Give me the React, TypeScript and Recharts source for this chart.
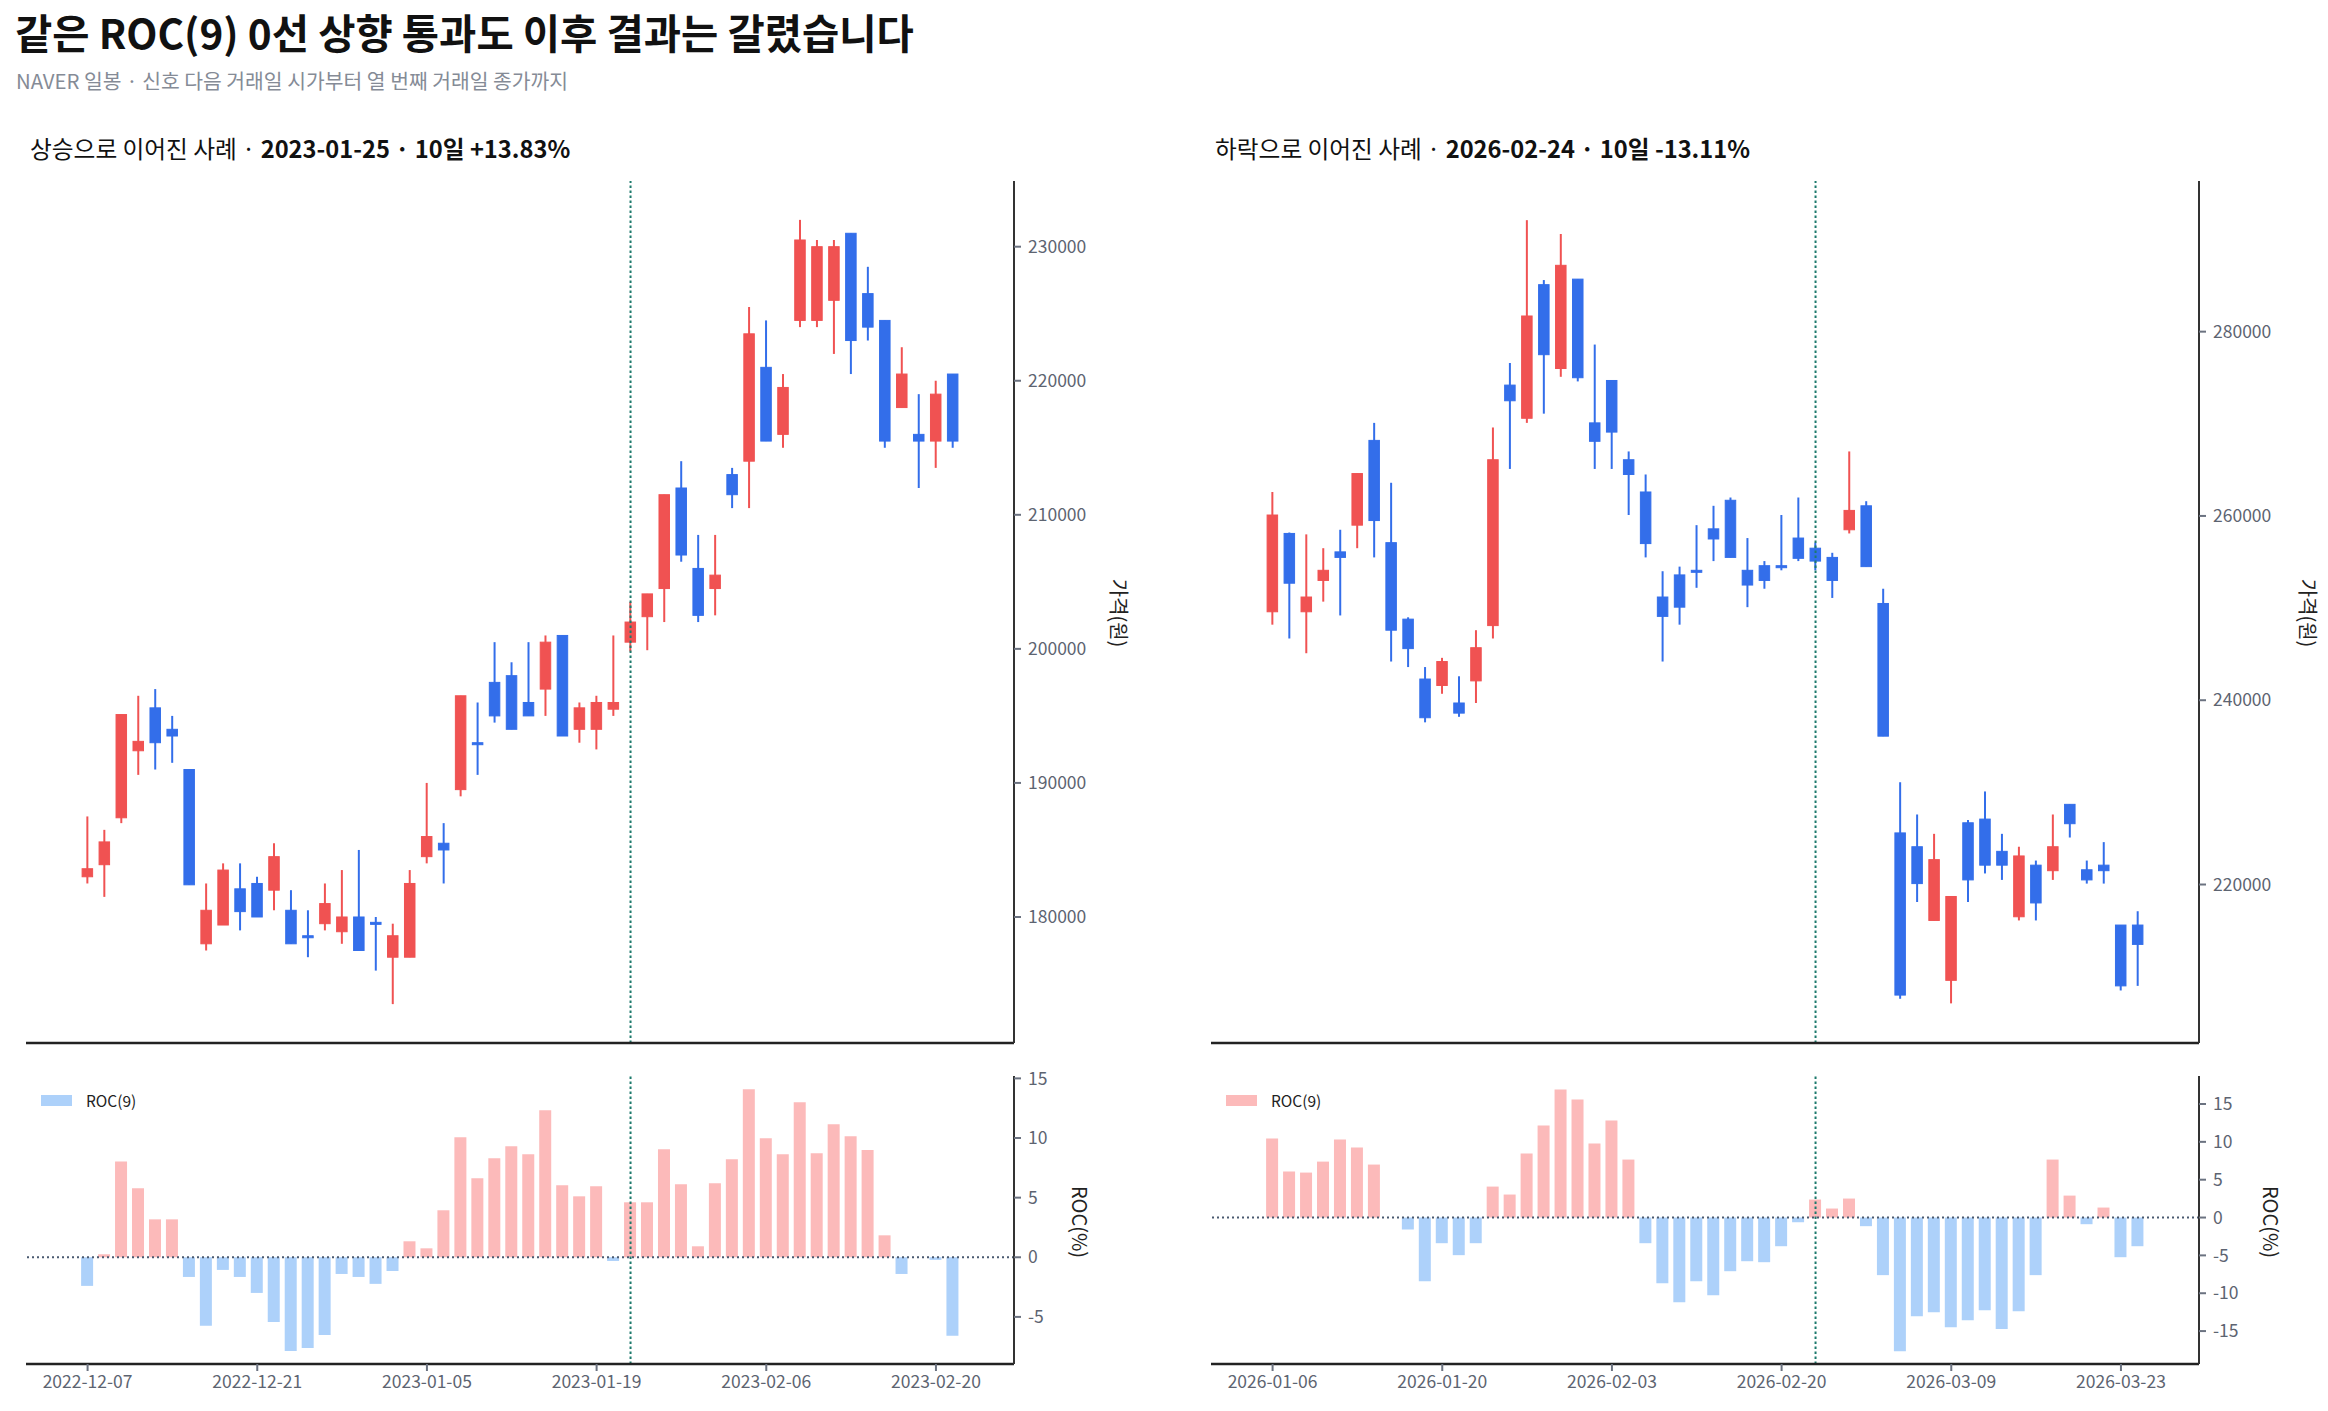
import React from 'react'
import {
  ComposedChart,
  Bar,
  Cell,
  XAxis,
  YAxis,
  ReferenceLine,
} from 'recharts'

// ---- 상승 사례 (2023-01-25 신호) ----
const UP_DATES = [
  '2022-12-07', '2022-12-08', '2022-12-09', '2022-12-12', '2022-12-13', '2022-12-14', '2022-12-15', '2022-12-16', '2022-12-19', '2022-12-20',
  '2022-12-21', '2022-12-22', '2022-12-23', '2022-12-26', '2022-12-27', '2022-12-28', '2022-12-29', '2023-01-02', '2023-01-03', '2023-01-04',
  '2023-01-05', '2023-01-06', '2023-01-09', '2023-01-10', '2023-01-11', '2023-01-12', '2023-01-13', '2023-01-16', '2023-01-17', '2023-01-18',
  '2023-01-19', '2023-01-20', '2023-01-25', '2023-01-26', '2023-01-27', '2023-01-30', '2023-01-31', '2023-02-01', '2023-02-02', '2023-02-03',
  '2023-02-06', '2023-02-07', '2023-02-08', '2023-02-09', '2023-02-10', '2023-02-13', '2023-02-14', '2023-02-15', '2023-02-16', '2023-02-17',
  '2023-02-20', '2023-02-21',
]
const UP_OPEN = [
  183000, 183900, 187400, 192400, 195600, 194000, 191000, 178000, 179400, 182100,
  182500, 182000, 180500, 178600, 179500, 178900, 180000, 179600, 177000, 177000,
  184500, 185500, 189500, 193000, 197500, 198000, 196000, 197000, 201000, 194000,
  194000, 195500, 200500, 202400, 204500, 212000, 206000, 204500, 213000, 214000,
  221000, 216000, 224500, 224500, 226000, 231000, 226500, 224500, 218000, 216000,
  215500, 220500,
]
const UP_HIGH = [
  187500, 186500, 195100, 196500, 197000, 195000, 191000, 182500, 184000, 184000,
  183000, 185500, 182000, 180500, 182500, 183500, 185000, 180000, 179500, 183500,
  190000, 187000, 196500, 196000, 200500, 199000, 200500, 201000, 201000, 196000,
  196500, 201000, 203500, 204100, 211500, 214000, 208500, 208500, 213500, 225500,
  224500, 220500, 232000, 230500, 230500, 231000, 228500, 224500, 222500, 219000,
  220000, 220500,
]
const UP_LOW = [
  182500, 181500, 187000, 190600, 191000, 191500, 182400, 177500, 179400, 179000,
  180000, 180500, 178000, 177000, 179000, 178000, 177500, 176000, 173500, 177000,
  184000, 182500, 189000, 190600, 194500, 194000, 195000, 195000, 193500, 193000,
  192500, 195000, 199800, 199900, 202000, 206500, 202000, 202500, 210500, 210500,
  215500, 215000, 224000, 224000, 222000, 220500, 223000, 215000, 218000, 212000,
  213500, 215000,
]
const UP_CLOSE = [
  183600, 185600, 195100, 193100, 193000, 193500, 182400, 180500, 183500, 180400,
  180000, 184500, 178000, 178500, 181000, 180000, 177500, 179500, 178600, 182500,
  186000, 185000, 196500, 192900, 195000, 194000, 195000, 200500, 193500, 195600,
  196000, 196000, 202000, 204100, 211500, 207000, 202500, 205500, 211500, 223500,
  215500, 219500, 230500, 230000, 230000, 223000, 224000, 215500, 220500, 215500,
  219000, 215500,
]
const UP_ROC = [
  -2.4, 0.25, 8.04, 5.78, 3.18, 3.18, -1.65, -5.75, -1.06, -1.65,
  -2.99, -5.42, -7.85, -7.6, -6.51, -1.4, -1.65, -2.23, -1.15, 1.34,
  0.75, 3.94, 10.06, 6.62, 8.3, 9.3, 8.63, 12.32, 6.03, 5.11,
  5.95, -0.31, 4.61, 4.61, 9.05, 6.12, 0.92, 6.2, 8.21, 14.08,
  9.97, 8.63, 12.99, 8.72, 11.15, 10.14, 9.0, 1.84, -1.4, 0.0,
  -0.22, -6.59,
]

// ---- 하락 사례 (2026-02-24 신호) ----
const DOWN_DATES = [
  '2026-01-06', '2026-01-07', '2026-01-08', '2026-01-09', '2026-01-12', '2026-01-13', '2026-01-14', '2026-01-15', '2026-01-16', '2026-01-19',
  '2026-01-20', '2026-01-21', '2026-01-22', '2026-01-23', '2026-01-26', '2026-01-27', '2026-01-28', '2026-01-29', '2026-01-30', '2026-02-02',
  '2026-02-03', '2026-02-04', '2026-02-05', '2026-02-06', '2026-02-09', '2026-02-10', '2026-02-11', '2026-02-12', '2026-02-13', '2026-02-19',
  '2026-02-20', '2026-02-23', '2026-02-24', '2026-02-25', '2026-02-26', '2026-02-27', '2026-03-03', '2026-03-04', '2026-03-05', '2026-03-06',
  '2026-03-09', '2026-03-10', '2026-03-11', '2026-03-12', '2026-03-13', '2026-03-16', '2026-03-17', '2026-03-18', '2026-03-19', '2026-03-20',
  '2026-03-23', '2026-03-24',
]
const DOWN_OPEN = [
  249600, 258100, 249600, 253000, 256100, 259000, 268200, 257100, 248800, 242300,
  241600, 239700, 242100, 248100, 274200, 270600, 285100, 276000, 285700, 270100,
  274700, 266100, 262600, 251200, 253600, 254100, 258600, 261700, 254100, 254600,
  254600, 257600, 256500, 255500, 258500, 261100, 250500, 225600, 224100, 216100,
  209600, 226700, 227100, 223600, 216500, 222100, 221500, 228700, 221600, 222100,
  215600, 215600,
]
const DOWN_HIGH = [
  262600, 258200, 258000, 256500, 258500, 264600, 270100, 263600, 249000, 243600,
  244600, 242600, 247600, 269600, 276600, 292100, 285600, 290600, 285700, 278600,
  274700, 267000, 264500, 254000, 254500, 259000, 261100, 262000, 257600, 255100,
  260100, 262000, 257100, 256000, 267000, 261600, 252100, 231100, 227600, 225500,
  218700, 227000, 230100, 225500, 224100, 222600, 227600, 228700, 222600, 224600,
  215600, 217100,
]
const DOWN_LOW = [
  248200, 246700, 245100, 250700, 249200, 256500, 255500, 244200, 243600, 237600,
  240700, 238200, 239700, 246700, 265100, 270100, 271100, 275100, 274600, 265100,
  265100, 260100, 255500, 244200, 248200, 252200, 255100, 255500, 250100, 252100,
  254100, 255100, 254100, 251100, 258100, 254500, 236100, 207600, 218100, 216100,
  207100, 218100, 221200, 220500, 216100, 216100, 220500, 225100, 220100, 220100,
  208500, 209000,
]
const DOWN_CLOSE = [
  260100, 252700, 251200, 254100, 255500, 264600, 259500, 247600, 245600, 238100,
  244200, 238600, 245700, 266100, 272500, 281700, 277500, 287200, 275000, 268100,
  269100, 264500, 257000, 249100, 250100, 253900, 257500, 255500, 252500, 253000,
  254400, 255400, 255100, 253000, 260600, 254500, 236100, 208000, 220100, 222700,
  218700, 220500, 222100, 222100, 223100, 218000, 224100, 226600, 220500, 221500,
  209000, 213500,
]
const DOWN_ROC = [
  10.43, 6.07, 5.94, 7.39, 10.3, 9.24, 7.0, 0, -1.58, -8.41,
  -3.39, -4.97, -3.39, 4.09, 3.04, 8.45, 12.15, 16.9, 15.58, 9.77,
  12.81, 7.66, -3.39, -8.67, -11.18, -8.41, -10.26, -7.09, -5.77, -5.9,
  -3.79, -0.62, 2.38, 1.19, 2.51, -1.14, -7.61, -17.65, -13.03, -12.5,
  -14.48, -13.56, -12.24, -14.74, -12.37, -7.61, 7.66, 2.9, -0.88, 1.32,
  -5.24, -3.79,
]

const X_TICKS = [0, 10, 20, 30, 40, 50]
const UP_PRICE_TICKS = [180000, 190000, 200000, 210000, 220000, 230000]
const DOWN_PRICE_TICKS = [220000, 240000, 260000, 280000]
const UP_ROC_TICKS = [-5, 0, 5, 10, 15]
const DOWN_ROC_TICKS = [-15, -10, -5, 0, 5, 10, 15]

const FONT = "'Noto Sans CJK KR', 'Noto Sans', sans-serif"
const RED = '#f05252'
const BLUE = '#336eea'
const PINK = '#fcbaba'
const SKY = '#add1fa'
const TEAL = '#1d7a6c'
const TICK_TEXT = '#5d6471'
const TICK_LINE = '#6b7280'

function Candle(props: any) {
  const { x, width, payload } = props
  let { y, height } = props
  if (height < 0) {
    y = y + height
    height = -height
  }
  const { open, close, high, low } = payload
  const color = close >= open ? RED : BLUE
  const span = high - low || 1
  const py = (v: number) => y + ((high - v) / span) * height
  const top = py(Math.max(open, close))
  const bottom = py(Math.min(open, close))
  const cx = x + width / 2
  return (
    <g>
      <line x1={cx} x2={cx} y1={y} y2={y + height} stroke={color} strokeWidth={2} />
      <rect
        x={x}
        y={top}
        width={width}
        height={Math.max(bottom - top, 2)}
        fill={color}
        stroke={color}
        strokeWidth={1}
      />
    </g>
  )
}

type PanelProps = {
  left: number
  plotLeft: number
  axisWidth: number
  dates: string[]
  open: number[]
  high: number[]
  low: number[]
  close: number[]
  roc: number[]
  signalDate: string
  label: string
  headline: string
  priceDomain: [number, number]
  priceTicks: number[]
  rocDomain: [number, number]
  rocTicks: number[]
  priceLabelX: number
  rocLabelX: number
}

function Panel(p: PanelProps) {
  const rows = p.dates.map((d, i) => ({
    i,
    date: d,
    open: p.open[i],
    high: p.high[i],
    low: p.low[i],
    close: p.close[i],
    roc: p.roc[i],
  }))
  const signal = p.dates.indexOf(p.signalDate)
  const xDomain: [number, number] = [-3.63, 54.6]
  const width = 1164
  const tickStyle = { fill: TICK_TEXT, fontSize: 17.5, fontFamily: FONT }
  const rotLabel = (cx: number, cy: number, text: string) => (
    <div
      style={{
        position: 'absolute',
        left: cx,
        top: cy,
        transform: 'translate(-50%, -50%) rotate(90deg)',
        whiteSpace: 'nowrap',
        fontFamily: FONT,
        fontSize: 20,
        color: '#222',
        lineHeight: 1,
      }}
    >
      {text}
    </div>
  )

  return (
    <>
      <div
        style={{
          position: 'absolute',
          left: p.left + p.plotLeft + 4,
          top: 137,
          fontFamily: FONT,
          fontSize: 23.7,
          lineHeight: 1,
          color: '#111',
          whiteSpace: 'nowrap',
        }}
      >
        {p.label} · <b>{p.headline}</b>
      </div>

      <div style={{ position: 'absolute', left: p.left, top: 170 }}>
        <ComposedChart
          width={width}
          height={885}
          data={rows}
          margin={{ top: 11, right: 0, left: p.plotLeft, bottom: 0 }}
        >
          <XAxis
            dataKey="i"
            type="number"
            domain={xDomain}
            allowDataOverflow
            ticks={X_TICKS}
            interval={0}
            tick={false}
            height={12}
            tickSize={7}
            axisLine={{ stroke: '#222', strokeWidth: 2.5 }}
            tickLine={{ stroke: TICK_LINE, strokeWidth: 2 }}
          />
          <YAxis
            orientation="right"
            type="number"
            domain={p.priceDomain}
            allowDataOverflow
            ticks={p.priceTicks}
            interval={0}
            width={p.axisWidth}
            tickSize={7}
            tickMargin={7}
            tick={tickStyle}
            axisLine={{ stroke: '#333', strokeWidth: 2 }}
            tickLine={{ stroke: TICK_LINE, strokeWidth: 2 }}
          />
          <ReferenceLine x={signal} stroke={TEAL} strokeWidth={2} strokeDasharray="2.5 2.5" />
          <Bar
            dataKey={(d: any) => [d.low, d.high]}
            barSize={10.5}
            shape={<Candle />}
            isAnimationActive={false}
          />
        </ComposedChart>
      </div>
      {rotLabel(p.left + p.priceLabelX, 613, '가격(원)')}

      <div style={{ position: 'absolute', left: p.left, top: 1066 }}>
        <ComposedChart
          width={width}
          height={338}
          data={rows}
          margin={{ top: 10, right: 0, left: p.plotLeft, bottom: 0 }}
        >
          <XAxis
            dataKey="i"
            type="number"
            domain={xDomain}
            allowDataOverflow
            ticks={X_TICKS}
            interval={0}
            height={40}
            tickSize={7}
            tickMargin={5}
            tick={tickStyle}
            tickFormatter={(v: number) => p.dates[v] ?? ''}
            axisLine={{ stroke: '#222', strokeWidth: 2.5 }}
            tickLine={{ stroke: TICK_LINE, strokeWidth: 2 }}
          />
          <YAxis
            orientation="right"
            type="number"
            domain={p.rocDomain}
            allowDataOverflow
            ticks={p.rocTicks}
            interval={0}
            width={p.axisWidth}
            tickSize={7}
            tickMargin={7}
            tick={tickStyle}
            axisLine={{ stroke: '#333', strokeWidth: 2 }}
            tickLine={{ stroke: TICK_LINE, strokeWidth: 2 }}
          />
          <Bar dataKey="roc" barSize={12} isAnimationActive={false}>
            {rows.map((r) => (
              <Cell key={r.i} fill={r.roc >= 0 ? PINK : SKY} />
            ))}
          </Bar>
          <ReferenceLine y={0} stroke="#4a5a70" strokeWidth={2} strokeDasharray="2 3" />
          <ReferenceLine x={signal} stroke={TEAL} strokeWidth={2} strokeDasharray="2.5 2.5" />
        </ComposedChart>
      </div>
      {rotLabel(p.left + p.rocLabelX, 1222, 'ROC(%)')}

      <div
        style={{
          position: 'absolute',
          left: p.left + p.plotLeft + 15,
          top: 1089,
          display: 'flex',
          alignItems: 'center',
          fontFamily: FONT,
          fontSize: 15.5,
          color: '#222',
          whiteSpace: 'nowrap',
        }}
      >
        <span
          style={{
            display: 'inline-block',
            width: 31,
            height: 11,
            background: rows[0].roc >= 0 ? PINK : SKY,
            marginRight: 14,
          }}
        />
        ROC(9)
      </div>
    </>
  )
}

export default function App() {
  return (
    <div
      style={{
        position: 'absolute',
        left: 0,
        top: 0,
        width: 2328,
        height: 1411,
        overflow: 'hidden',
        background: '#fff',
        fontFamily: FONT,
      }}
    >
      <div
        style={{
          position: 'absolute',
          left: 15,
          top: 12,
          fontSize: 40.5,
          fontWeight: 700,
          lineHeight: 1,
          color: '#111',
          whiteSpace: 'nowrap',
        }}
      >
        같은 ROC(9) 0선 상향 통과도 이후 결과는 갈렸습니다
      </div>
      <div
        style={{
          position: 'absolute',
          left: 16,
          top: 70,
          fontSize: 20.4,
          lineHeight: 1,
          color: '#858b96',
          whiteSpace: 'nowrap',
        }}
      >
        NAVER 일봉 · 신호 다음 거래일 시가부터 열 번째 거래일 종가까지
      </div>

      <Panel
        left={0}
        plotLeft={26}
        axisWidth={150}
        dates={UP_DATES}
        open={UP_OPEN}
        high={UP_HIGH}
        low={UP_LOW}
        close={UP_CLOSE}
        roc={UP_ROC}
        signalDate="2023-01-25"
        label="상승으로 이어진 사례"
        headline="2023-01-25 · 10일 +13.83%"
        priceDomain={[170600, 234900]}
        priceTicks={UP_PRICE_TICKS}
        rocDomain={[-8.95, 15.2]}
        rocTicks={UP_ROC_TICKS}
        priceLabelX={1119}
        rocLabelX={1080}
      />
      <Panel
        left={1164}
        plotLeft={47}
        axisWidth={129}
        dates={DOWN_DATES}
        open={DOWN_OPEN}
        high={DOWN_HIGH}
        low={DOWN_LOW}
        close={DOWN_CLOSE}
        roc={DOWN_ROC}
        signalDate="2026-02-24"
        label="하락으로 이어진 사례"
        headline="2026-02-24 · 10일 -13.11%"
        priceDomain={[202800, 296350]}
        priceTicks={DOWN_PRICE_TICKS}
        rocDomain={[-19.35, 18.7]}
        rocTicks={DOWN_ROC_TICKS}
        priceLabelX={1144}
        rocLabelX={1107}
      />
    </div>
  )
}
